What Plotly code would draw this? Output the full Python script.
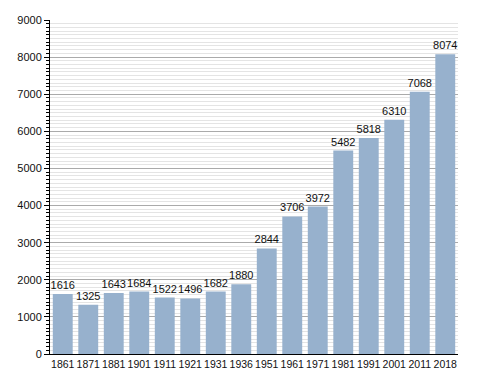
import plotly.graph_objects as go

years = ["1861", "1871", "1881", "1901", "1911", "1921", "1931", "1936", "1951",
         "1961", "1971", "1981", "1991", "2001", "2011", "2018"]
population = [1616, 1325, 1643, 1684, 1522, 1496, 1682, 1880, 2844,
              3706, 3972, 5482, 5818, 6310, 7068, 8074]

fig = go.Figure(go.Bar(
    x=years, y=population,
    marker=dict(color="#97b1cd", line=dict(width=0)),
    text=[str(v) for v in population], textposition="outside",
    constraintext="none",
    textfont=dict(family="Liberation Sans, Arial", size=11, color="#111"),
    cliponaxis=False,
))
fig.update_layout(
    width=480, height=365,
    margin=dict(l=42, r=30, t=12, b=19),
    paper_bgcolor="white", plot_bgcolor="white",
    bargap=0.22, showlegend=False,
    font=dict(family="Liberation Sans, Arial", size=11, color="#111"),
)
fig.update_xaxes(type="category", showline=True, linecolor="black", linewidth=1,
                 ticks="", tickangle=0, automargin=False,
                 tickfont=dict(size=10.5), showgrid=False)
fig.update_yaxes(range=[0, 9000], dtick=1000, showline=True, linecolor="black",
                 linewidth=1, ticks="outside", ticklen=5, tickcolor="black",
                 gridcolor="#aaaaaa", gridwidth=1, zeroline=False, automargin=False,
                 tickfont=dict(size=11),
                 minor=dict(dtick=100, showgrid=True, gridcolor="#e4e4e4",
                            ticks="outside", ticklen=3, tickcolor="black"))
fig.write_html("out.html")
